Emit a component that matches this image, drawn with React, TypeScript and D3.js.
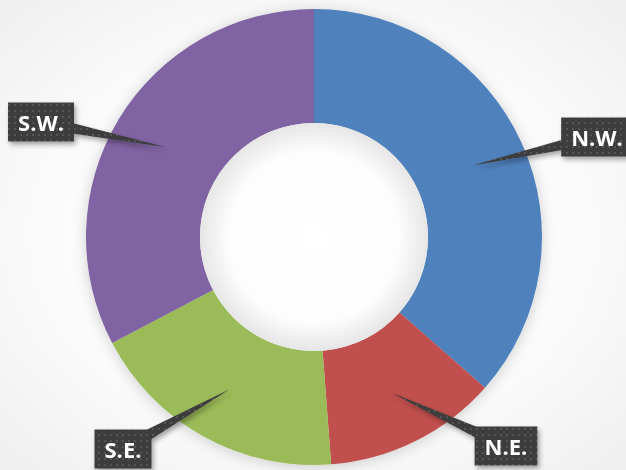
import React, { useEffect, useRef } from "react";
import * as d3 from "d3";

// regions and their share (clockwise from 12 o'clock)
const regions = ["N.W.", "N.E.", "S.E.", "S.W."];
const shares = [36.5, 12.3, 18.5, 32.7];
const colors = ["#4f81bd", "#c0504d", "#9bbb59", "#8064a2"];

// callout box centres (annotation layout)
const labelBoxX = [597, 506, 123, 41];
const labelBoxY = [137, 446, 449, 122];

const W = 626;
const H = 470;

export default function App() {
  const ref = useRef<SVGSVGElement | null>(null);

  useEffect(() => {
    const svg = d3.select(ref.current);
    svg.selectAll("*").remove();

    const cx = 314;
    const cy = 237;
    const outerR = 228;
    const innerR = 114;

    const defs = svg.append("defs");

    const bg = defs.append("radialGradient").attr("id", "bg").attr("cx", "50%").attr("cy", "50%").attr("r", "70%");
    bg.append("stop").attr("offset", "0%").attr("stop-color", "#ffffff");
    bg.append("stop").attr("offset", "60%").attr("stop-color", "#fbfbfb");
    bg.append("stop").attr("offset", "100%").attr("stop-color", "#efefef");

    const hole = defs.append("radialGradient").attr("id", "hole");
    hole.append("stop").attr("offset", "0%").attr("stop-color", "#ffffff");
    hole.append("stop").attr("offset", "75%").attr("stop-color", "#fdfdfd");
    hole.append("stop").attr("offset", "100%").attr("stop-color", "#e6e6e6");

    const dots = defs.append("pattern").attr("id", "dots")
      .attr("width", 6).attr("height", 6).attr("patternUnits", "userSpaceOnUse");
    dots.append("rect").attr("width", 6).attr("height", 6).attr("fill", "#3c3c3c");
    dots.append("rect").attr("x", 2).attr("y", 2).attr("width", 2).attr("height", 2).attr("fill", "#555555");

    const halo = defs.append("filter").attr("id", "halo")
      .attr("x", "-20%").attr("y", "-20%").attr("width", "140%").attr("height", "140%");
    halo.append("feDropShadow").attr("dx", 0).attr("dy", 2).attr("stdDeviation", 7)
      .attr("flood-color", "#000").attr("flood-opacity", 0.18);

    const shadow = defs.append("filter").attr("id", "shadow")
      .attr("x", "-30%").attr("y", "-30%").attr("width", "160%").attr("height", "160%");
    shadow.append("feDropShadow").attr("dx", 2).attr("dy", 3).attr("stdDeviation", 2.5)
      .attr("flood-color", "#000").attr("flood-opacity", 0.35);

    svg.append("rect").attr("width", W).attr("height", H).attr("fill", "url(#bg)");

    const pie = d3.pie<number>().sort(null).value((d) => d);
    const arcs = pie(shares);
    const arc = d3.arc<d3.PieArcDatum<number>>().innerRadius(innerR).outerRadius(outerR);

    const g = svg.append("g").attr("transform", `translate(${cx},${cy})`);
    g.append("g").attr("filter", "url(#halo)")
      .selectAll("path")
      .data(arcs)
      .join("path")
      .attr("d", arc)
      .attr("fill", (_d, i) => colors[i]);

    g.append("circle").attr("r", innerR).attr("fill", "url(#hole)");

    // callouts
    const tipR = 174;
    const tipArc = d3.arc<d3.PieArcDatum<number>>().innerRadius(tipR).outerRadius(tipR);
    const fontSize = 22;
    const padX = 10;
    const boxH = 39;

    arcs.forEach((a, i) => {
      const [tx0, ty0] = tipArc.centroid(a);
      const tx = tx0 + cx;
      const ty = ty0 + cy;
      const bx = labelBoxX[i];
      const by = labelBoxY[i];

      const grp = svg.append("g").attr("filter", "url(#shadow)");

      const text = grp.append("text")
        .attr("x", bx)
        .attr("y", by)
        .attr("text-anchor", "middle")
        .attr("dominant-baseline", "central")
        .attr("font-family", "'Open Sans', sans-serif")
        .attr("font-weight", 700)
        .attr("font-size", fontSize)
        .attr("fill", "#ffffff")
        .text(regions[i]);
      const tw = (text.node() as SVGTextElement).getComputedTextLength();
      const bw = tw + padX * 2;

      // wedge from box centre to tip
      const dx = tx - bx;
      const dy = ty - by;
      const len = Math.hypot(dx, dy);
      const nx = -dy / len;
      const ny = dx / len;
      const half = 7;
      grp.insert("path", "text")
        .attr("d", `M${bx + nx * half},${by + ny * half}L${tx},${ty}L${bx - nx * half},${by - ny * half}Z`)
        .attr("fill", "url(#dots)");

      grp.insert("rect", "text")
        .attr("x", bx - bw / 2)
        .attr("y", by - boxH / 2)
        .attr("width", bw)
        .attr("height", boxH)
        .attr("fill", "url(#dots)");
    });
  }, []);

  return (
    <svg
      ref={ref}
      width={W}
      height={H}
      style={{ position: "fixed", left: 0, top: 0, display: "block" }}
    />
  );
}
